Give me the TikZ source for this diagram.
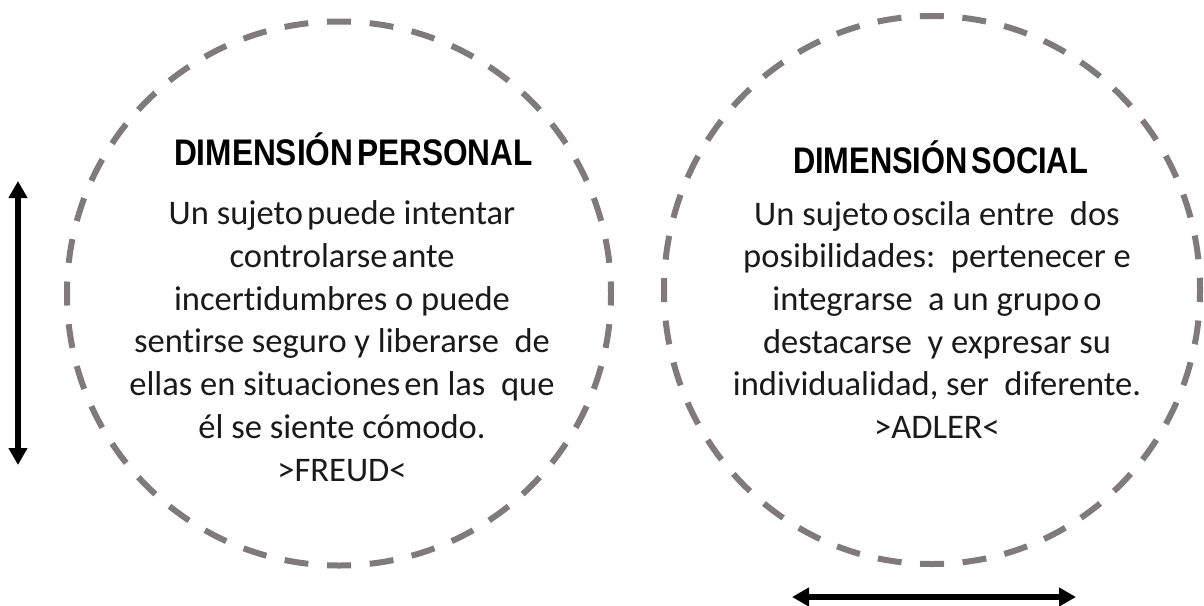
\documentclass[tikz,border=0pt]{standalone}
\usepackage{fontspec}
\usepackage{graphicx}
\setmainfont{Carlito}[Ligatures=NoCommon]
\newfontfamily\titlefont{Liberation Sans}
\usetikzlibrary{arrows.meta}
\definecolor{dashgray}{RGB}{128,122,124}
\definecolor{bodyink}{RGB}{26,26,26}
\newcommand{\nsp}{\hspace{0.12em}}
\begin{document}
\begin{tikzpicture}[x=1pt,y=-1pt,
  ringA/.style={draw=dashgray, line width=6pt, dash pattern=on 24pt off 18.73pt, dash phase=12pt},
  ringB/.style={draw=dashgray, line width=6pt, dash pattern=on 24pt off 18.57pt, dash phase=12pt},
  titletext/.style={font=\titlefont\bfseries\fontsize{37}{40}\selectfont, anchor=base, inner sep=0pt},
  bodytext/.style={font=\fontsize{34.5}{42.7}\selectfont, text=bodyink, align=center, anchor=base, inner sep=0pt},
  dblarrow/.style={line width=6pt, {Triangle[width=18pt,length=17pt]}-{Triangle[width=18pt,length=17pt]}}]
\useasboundingbox (0,0) rectangle (1204,605);
\fill[white] (0,0) rectangle (1204,605);
% circles
\draw[ringA] (339,293.5) circle[radius=272];
\draw[ringB] (932,290) ellipse[x radius=268, y radius=274];
% titles
\node[titletext] (t1) at (353.5,165) {\resizebox{359pt}{\height}{DIMENSIÓN\nsp PERSONAL}};
\node[titletext] (t2) at (940.5,173) {\resizebox{295pt}{\height}{DIMENSIÓN\nsp SOCIAL}};
% bodies (anchored at the baseline of the last line)
\node[bodytext] (b1) at (342,481) {Un sujeto\nsp puede intentar\\controlarse\nsp ante\\incertidumbres o puede\\sentirse seguro y liberarse\ \ de\\ellas en situaciones\nsp en las\ \ que\\él se siente cómodo.\\>FREUD<};
\node[bodytext] (b2) at (937,438.5) {Un sujeto\nsp oscila entre\ \ dos\\posibilidades:\ \ pertenecer e\\integrarse\ \ a un grupo\nsp o\\destacarse\ \ y expresar su\\individualidad, ser\ \ diferente.\\>ADLER<};
% arrows
\coordinate (va1) at (18,181);
\coordinate (va2) at (18,465);
\coordinate (ha1) at (792,597);
\coordinate (ha2) at (1076,597);
\draw[dblarrow] (va1) -- (va2);
\draw[dblarrow] (ha1) -- (ha2);
\end{tikzpicture}
\end{document}
